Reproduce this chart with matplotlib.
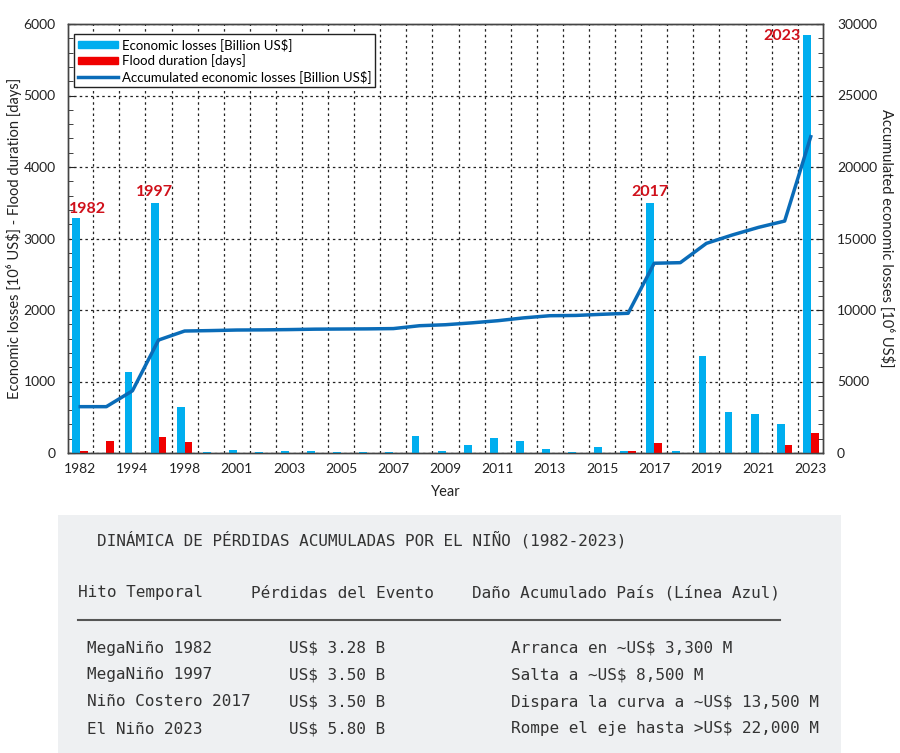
import numpy as np
import matplotlib
matplotlib.use("Agg")
import matplotlib.pyplot as plt
from matplotlib.ticker import MultipleLocator
from matplotlib.patches import Rectangle
from matplotlib.lines import Line2D

# data
years = ['1982', '1983', '1994', '1997', '1998', '2000',
         '2001', '2002', '2003', '2004', '2005', '2006', '2007', '2008',
         '2009', '2010', '2011', '2012', '2013', '2014', '2015', '2016',
         '2017', '2018', '2019', '2020', '2021', '2022', '2023']
econ_losses = [3280, 0, 1130, 3500, 640, 15,
               45, 10, 25, 30, 8, 20, 8, 240,
               30, 115, 215, 165, 55, 15, 80, 33,
               3500, 25, 1360, 570, 540, 410, 5850]
flood_days = [30, 170, 0, 220, 155, 0,
              0, 0, 0, 0, 0, 0, 0, 0,
              0, 0, 0, 0, 0, 0, 0, 24,
              135, 0, 0, 0, 0, 115, 275]
accum_losses = [3240, 3240, 4350, 7900, 8530, 8560,
                8600, 8610, 8630, 8660, 8670, 8680, 8700, 8900,
                8970, 9100, 9250, 9450, 9600, 9620, 9700, 9770,
                13270, 13310, 14660, 15250, 15780, 16220, 22120]
highlight = ['1982', '1997', '2017', '2023']

table_title = "DINÁMICA DE PÉRDIDAS ACUMULADAS POR EL NIÑO (1982-2023)"
table_header = ["Hito Temporal", "Pérdidas del Evento", "Daño Acumulado País (Línea Azul)"]
hito = ["MegaNiño 1982", "MegaNiño 1997", "Niño Costero 2017", "El Niño 2023"]
perdidas = ["US$ 3.28 B", "US$ 3.50 B", "US$ 3.50 B", "US$ 5.80 B"]
acumulado = ["Arranca en ~US$ 3,300 M", "Salta a ~US$ 8,500 M",
             "Dispara la curva a ~US$ 13,500 M", "Rompe el eje hasta >US$ 22,000 M"]

plt.rcParams['font.family'] = ['Lato', 'DejaVu Sans']

W, H = 900, 753
fig = plt.figure(figsize=(W / 100, H / 100), dpi=100)


def fx(px):
    return px / W


def fy(py):
    return 1 - py / H


ax = fig.add_axes([fx(68), fy(453), fx(823) - fx(68), fy(24) - fy(453)])
x = np.arange(len(years))

ax.bar(x - 0.15, econ_losses, width=0.3, color='#00AEEF', zorder=3)
ax.bar(x + 0.15, flood_days, width=0.3, color='#F00000', zorder=3)
ax.set_xlim(-0.47, len(years) - 0.53)
ax.set_ylim(0, 6000)
ax.yaxis.set_major_locator(MultipleLocator(1000))
ax.yaxis.set_minor_locator(MultipleLocator(200))
ax.set_xticks(x[::2])
ax.set_xticklabels(years[::2])
ax.set_xticks(np.arange(0.5, len(years) - 1, 1), minor=True)
ax.set_axisbelow(True)
ax.grid(which='major', axis='y', linestyle=(0, (2, 2.5)), color='#222222', lw=0.9)
ax.grid(which='minor', axis='x', linestyle=(0, (2, 2.5)), color='#222222', lw=0.9)
ax.tick_params(axis='x', which='both', length=0, labelsize=10, pad=7, colors='#222222')
ax.tick_params(axis='y', which='both', direction='in', labelsize=10, pad=9, colors='#222222')
ax.tick_params(axis='y', which='major', length=5)
ax.tick_params(axis='y', which='minor', length=3.5)
ax.set_xlabel('Year', fontsize=10.5, color='#222222', va='center')
ax.xaxis.set_label_coords(0.5, -0.091)
ax.set_ylabel('Economic losses [10⁶ US$] - Flood duration [days]', fontsize=10.5,
              color='#222222', va='center')
ax.yaxis.set_label_coords(-0.071, 0.5)

ax2 = ax.twinx()
ax2.plot(x, accum_losses, color='#0A6CB8', lw=2.5, zorder=4)
ax2.set_ylim(0, 30000)
ax2.yaxis.set_major_locator(MultipleLocator(5000))
ax2.yaxis.set_minor_locator(MultipleLocator(1000))
ax2.tick_params(axis='y', which='both', direction='in', labelsize=10, pad=10, colors='#222222')
ax2.tick_params(axis='y', which='major', length=5)
ax2.tick_params(axis='y', which='minor', length=3.5)
ax2.set_ylabel('Accumulated economic losses [10⁶ US$]', fontsize=10.5, rotation=270,
               color='#222222', va='center')
ax2.yaxis.set_label_coords(1.085, 0.5)

for a in (ax, ax2):
    for s in a.spines.values():
        s.set_color('#444444')
        s.set_linewidth(1.0)

# red year labels on the big events
red = '#D0101A'
for yr in highlight:
    i = years.index(yr)
    v = econ_losses[i]
    if yr == '2023':
        ax.text(i - 0.4, v - 20, yr, color=red, fontsize=11.5, fontweight='bold',
                ha='right', va='center', zorder=5)
    elif yr == '1982':
        ax.annotate(yr, (i + 0.27, v), xytext=(0, 2), textcoords='offset points',
                    color=red, fontsize=11.5, fontweight='bold', ha='center', va='bottom')
    else:
        ax.annotate(yr, (i - 0.15, v), xytext=(0, 3), textcoords='offset points',
                    color=red, fontsize=11.5, fontweight='bold', ha='center', va='bottom')

handles = [Rectangle((0, 0), 1, 1, color='#00AEEF'),
           Rectangle((0, 0), 1, 1, color='#F00000'),
           Line2D([], [], color='#0A6CB8', lw=2.5)]
labels = ['Economic losses [Billion US$]', 'Flood duration [days]',
          'Accumulated economic losses [Billion US$]']
leg = ax2.legend(handles, labels, loc='upper left', bbox_to_anchor=(0.008, 0.977),
                 borderaxespad=0, fontsize=9.5, fancybox=False, framealpha=1,
                 edgecolor='#222222', handlelength=3.0, handleheight=0.45,
                 handletextpad=0.3, labelspacing=0.25, borderpad=0.3)
leg.get_frame().set_linewidth(1.0)
leg.set_zorder(10)

# summary table below the chart
fig.add_artist(Rectangle((fx(58), 0), fx(841) - fx(58), fy(515), transform=fig.transFigure,
                         facecolor='#EEF0F2', edgecolor='none', zorder=0))
mono = dict(family='DejaVu Sans Mono', fontsize=11.5, color='#333333', va='center')
fig.text(fx(97), fy(540), table_title, **mono)
for px, t in zip([78, 251, 472], table_header):
    fig.text(fx(px), fy(593), t, **mono)
fig.add_artist(Line2D([fx(78), fx(780)], [fy(620), fy(620)], transform=fig.transFigure,
                      color='#555555', lw=1.5))
for k, py in enumerate([648, 675, 702, 729]):
    fig.text(fx(87), fy(py), hito[k], **mono)
    fig.text(fx(289), fy(py), perdidas[k], **mono)
    fig.text(fx(511), fy(py), acumulado[k], **mono)

fig.savefig('out.png', dpi=100)
